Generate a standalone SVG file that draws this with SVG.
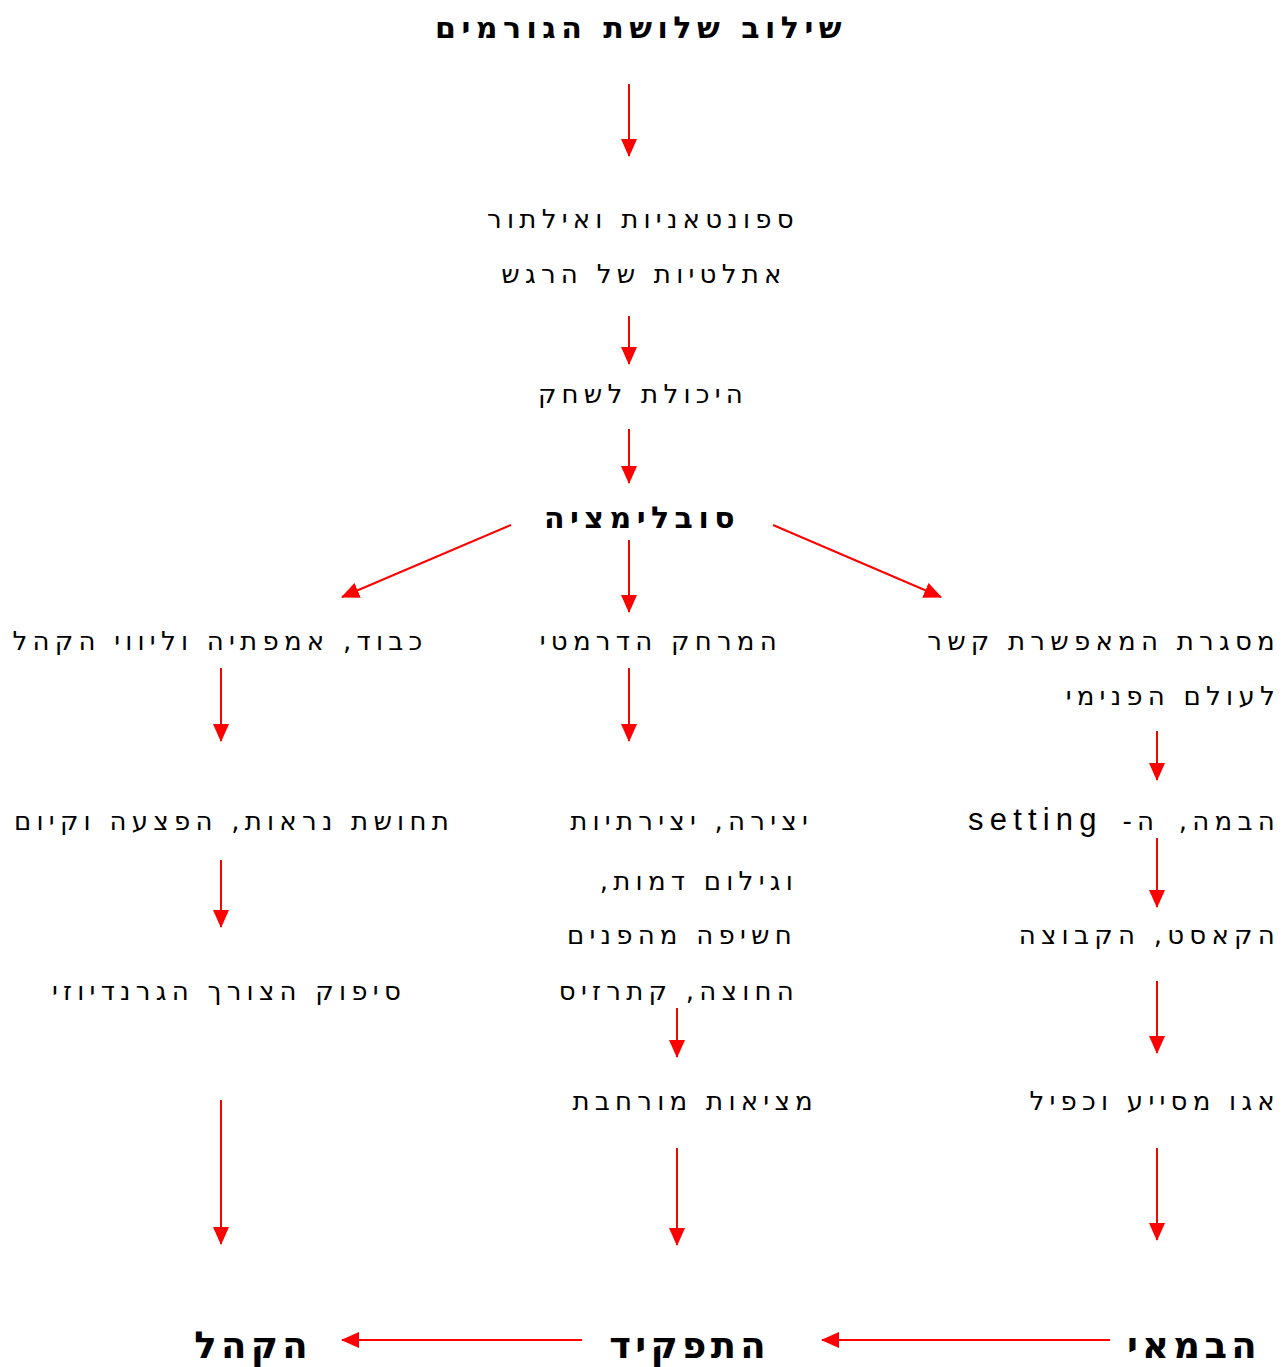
<svg xmlns="http://www.w3.org/2000/svg" width="1288" height="1367" viewBox="0 0 1288 1367">
<style>
text{font-family:"DejaVu Sans",sans-serif;fill:#000;direction:rtl}
.n{font-size:26px;letter-spacing:5.25px}
.b{font-size:30px;font-weight:bold;letter-spacing:5.5px}
.B{font-size:37px;font-weight:bold;letter-spacing:4.3px}
.lat{font-family:"Liberation Sans",sans-serif;font-size:31px;letter-spacing:6.2px;direction:ltr}
.c{fill:none;stroke:#ff0000;stroke-width:2;marker-end:url(#ah)}
</style>
<defs>
<marker id="ah" markerUnits="userSpaceOnUse" markerWidth="18" markerHeight="16" viewBox="0 0 18 16" refX="17" refY="8" orient="auto">
<path d="M0,0 L18,8 L0,16 Z" fill="#ff0000"/>
</marker>
</defs>
<rect width="1288" height="1367" fill="#fff"/>
<g id="connectors">
<line class="c" x1="629" y1="84" x2="629" y2="156"/>
<line class="c" x1="629" y1="316" x2="629" y2="364"/>
<line class="c" x1="629" y1="429" x2="629" y2="483"/>
<line class="c" x1="629" y1="540" x2="629" y2="612"/>
<line class="c" x1="511" y1="525" x2="342" y2="597"/>
<line class="c" x1="773" y1="525" x2="941" y2="597"/>
<line class="c" x1="221" y1="668" x2="221" y2="741"/>
<line class="c" x1="629" y1="668" x2="629" y2="741"/>
<line class="c" x1="1157" y1="731" x2="1157" y2="780"/>
<line class="c" x1="1157" y1="838" x2="1157" y2="907"/>
<line class="c" x1="221" y1="860" x2="221" y2="927"/>
<line class="c" x1="677" y1="1008" x2="677" y2="1057"/>
<line class="c" x1="1157" y1="981" x2="1157" y2="1053"/>
<line class="c" x1="221" y1="1100" x2="221" y2="1244"/>
<line class="c" x1="677" y1="1148" x2="677" y2="1245"/>
<line class="c" x1="1157" y1="1148" x2="1157" y2="1240"/>
<line class="c" x1="1110" y1="1340" x2="822" y2="1340"/>
<line class="c" x1="582" y1="1340" x2="342" y2="1340"/>
</g>
<g id="n-title"><text class="b" x="641" y="38" text-anchor="middle">שילוב שלושת הגורמים</text></g>
<g id="n-spont"><text class="n" x="643" y="228" text-anchor="middle">ספונטאניות ואילתור</text><text class="n" x="644" y="283" text-anchor="middle">אתלטיות של הרגש</text></g>
<g id="n-play"><text class="n" x="643" y="403" text-anchor="middle">היכולת לשחק</text></g>
<g id="n-sub"><text class="b" x="642" y="528" text-anchor="middle">סובלימציה</text></g>
<g id="n-respect"><text class="n" x="220" y="650" text-anchor="middle">כבוד, אמפתיה וליווי הקהל</text></g>
<g id="n-dist"><text class="n" x="782" y="650" text-anchor="start">המרחק הדרמטי</text></g>
<g id="n-frame"><text class="n" x="1280" y="650" text-anchor="start">מסגרת המאפשרת קשר</text><text class="n" x="1280" y="705" text-anchor="start">לעולם הפנימי</text></g>
<g id="n-stage"><text class="n" x="1280" y="830" text-anchor="start" style="word-spacing:6px">הבמה, ה-</text><text class="lat" x="968" y="830" text-anchor="start">setting</text></g>
<g id="n-cast"><text class="n" x="1280" y="944" text-anchor="start">הקאסט, הקבוצה</text></g>
<g id="n-ego"><text class="n" x="1280" y="1110" text-anchor="start">אגו מסייע וכפיל</text></g>
<g id="n-create"><text class="n" x="813" y="830" text-anchor="start">יצירה, יצירתיות</text><text class="n" x="798" y="890" text-anchor="start">וגילום דמות,</text><text class="n" x="797" y="944" text-anchor="start">חשיפה מהפנים</text><text class="n" x="799" y="1000" text-anchor="start">החוצה, קתרזיס</text></g>
<g id="n-reality"><text class="n" x="818" y="1110" text-anchor="start">מציאות מורחבת</text></g>
<g id="n-visible"><text class="n" x="234" y="830" text-anchor="middle">תחושת נראות, הפצעה וקיום</text></g>
<g id="n-grand"><text class="n" x="229" y="1000" text-anchor="middle">סיפוק הצורך הגרנדיוזי</text></g>
<g id="n-director"><text class="B" x="1261" y="1358" text-anchor="start">הבמאי</text></g>
<g id="n-role"><text class="B" x="770" y="1358" text-anchor="start">התפקיד</text></g>
<g id="n-audience"><text class="B" x="312" y="1358" text-anchor="start">הקהל</text></g>
</svg>
